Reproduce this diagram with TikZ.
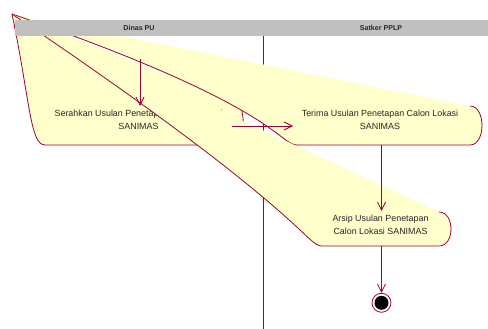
\documentclass[tikz,border=0pt]{standalone}
\usepackage{fontspec}
\setmainfont{Liberation Sans}
\usetikzlibrary{arrows.meta,calc}
\definecolor{actfill}{RGB}{255,255,204}
\definecolor{actline}{RGB}{160,0,55}
\definecolor{lanegray}{RGB}{192,192,192}

\begin{document}
\begin{tikzpicture}[x=1pt,y=-1pt,
  actedge/.style={draw=actline,line width=0.8pt},
  acttext/.style={font=\fontsize{8.9}{13}\selectfont,align=center,inner sep=0pt,text=black!85},
  lanetext/.style={font=\bfseries\fontsize{7.1}{8}\selectfont,inner sep=0pt,text=black!85},
  flow/.style={draw=actline,line width=0.8pt,-{Straight Barb[length=8pt,width=8pt]}}
]
\useasboundingbox (0,0) rectangle (488,329);
\fill[white] (0,0) rectangle (488,329);

% common corner point of the activity outlines
\coordinate (P) at (12,14);

% swimlane divider
\coordinate (divtop) at (263,36);
\coordinate (divbot) at (263,329);
\draw[actedge] (divtop) -- (divbot);

% activity: Serahkan
\coordinate (S-tr) at (232,100);
\coordinate (S-br) at (232,145);
\coordinate (S-bl) at (45,145);
\coordinate (S-c)  at (30,100);
\fill[actfill] (P) -- (S-tr) .. controls +(15,0) and +(15,0) .. (S-br)
  -- (S-bl) .. controls +(-15,0) and (S-c) .. (P) -- cycle;
\draw[actedge] (S-tr) .. controls +(15,0) and +(15,0) .. (S-br)
  -- (S-bl) .. controls +(-15,0) and (S-c) .. (P);
\node[acttext] (S) at (138.5,119.5) {Serahkan Usulan Penetapan Calon Lokasi\\SANIMAS};

% activity: Terima
\coordinate (T-tr) at (470,106);
\coordinate (T-br) at (470,145);
\coordinate (T-bl) at (297,145);
\coordinate (T-c)  at (279,106);
\fill[actfill] (P) -- (T-tr) .. controls +(16,0) and +(16,0) .. (T-br)
  -- (T-bl) .. controls +(-18,0) and (T-c) .. (P) -- cycle;
\draw[actedge] (T-tr) .. controls +(16,0) and +(16,0) .. (T-br)
  -- (T-bl) .. controls +(-18,0) and (T-c) .. (P);
\node[acttext] (T) at (380,119.5) {Terima Usulan Penetapan Calon Lokasi\\SANIMAS};

% activity: Arsip
\coordinate (A-tr) at (439,212);
\coordinate (A-br) at (439,246);
\coordinate (A-bl) at (322,246);
\coordinate (A-c)  at (306,212);
\fill[actfill] (P) -- (A-tr) .. controls +(16,0) and +(16,0) .. (A-br)
  -- (A-bl) .. controls +(-16,0) and (A-c) .. (P) -- cycle;
\draw[actedge] (A-tr) .. controls +(16,0) and +(16,0) .. (A-br)
  -- (A-bl) .. controls +(-16,0) and (A-c) .. (P);
\node[acttext] (A) at (380.5,225) {Arsip Usulan Penetapan\\Calon Lokasi SANIMAS};

% swimlane header
\fill[lanegray] (15,20) rectangle (488,36);
\node[lanetext] (laneA) at (139,27.5) {Dinas PU};
\node[lanetext] (laneB) at (381,27.5) {Satker PPLP};

% final state
\node[circle,draw=actline,line width=0.8pt,minimum size=19pt,inner sep=0pt] (end) at (381.5,302.8) {};
\fill[black] (end.center) circle (7);

% transitions
\coordinate (init)  at (140,59);
\coordinate (S-in)  at (140,106);
\coordinate (S-out) at (232,126);
\coordinate (T-in)  at (293,126);
\coordinate (T-out) at (381.5,145);
\coordinate (A-in)  at (381.5,211);
\coordinate (A-out) at (381.5,246);
\draw[flow] (init) -- (S-in);
\draw[flow] (S-out) -- (T-in);
\draw[flow] (T-out) -- (A-in);
\draw[flow] (A-out) -- (end.north);
\end{tikzpicture}
\end{document}
